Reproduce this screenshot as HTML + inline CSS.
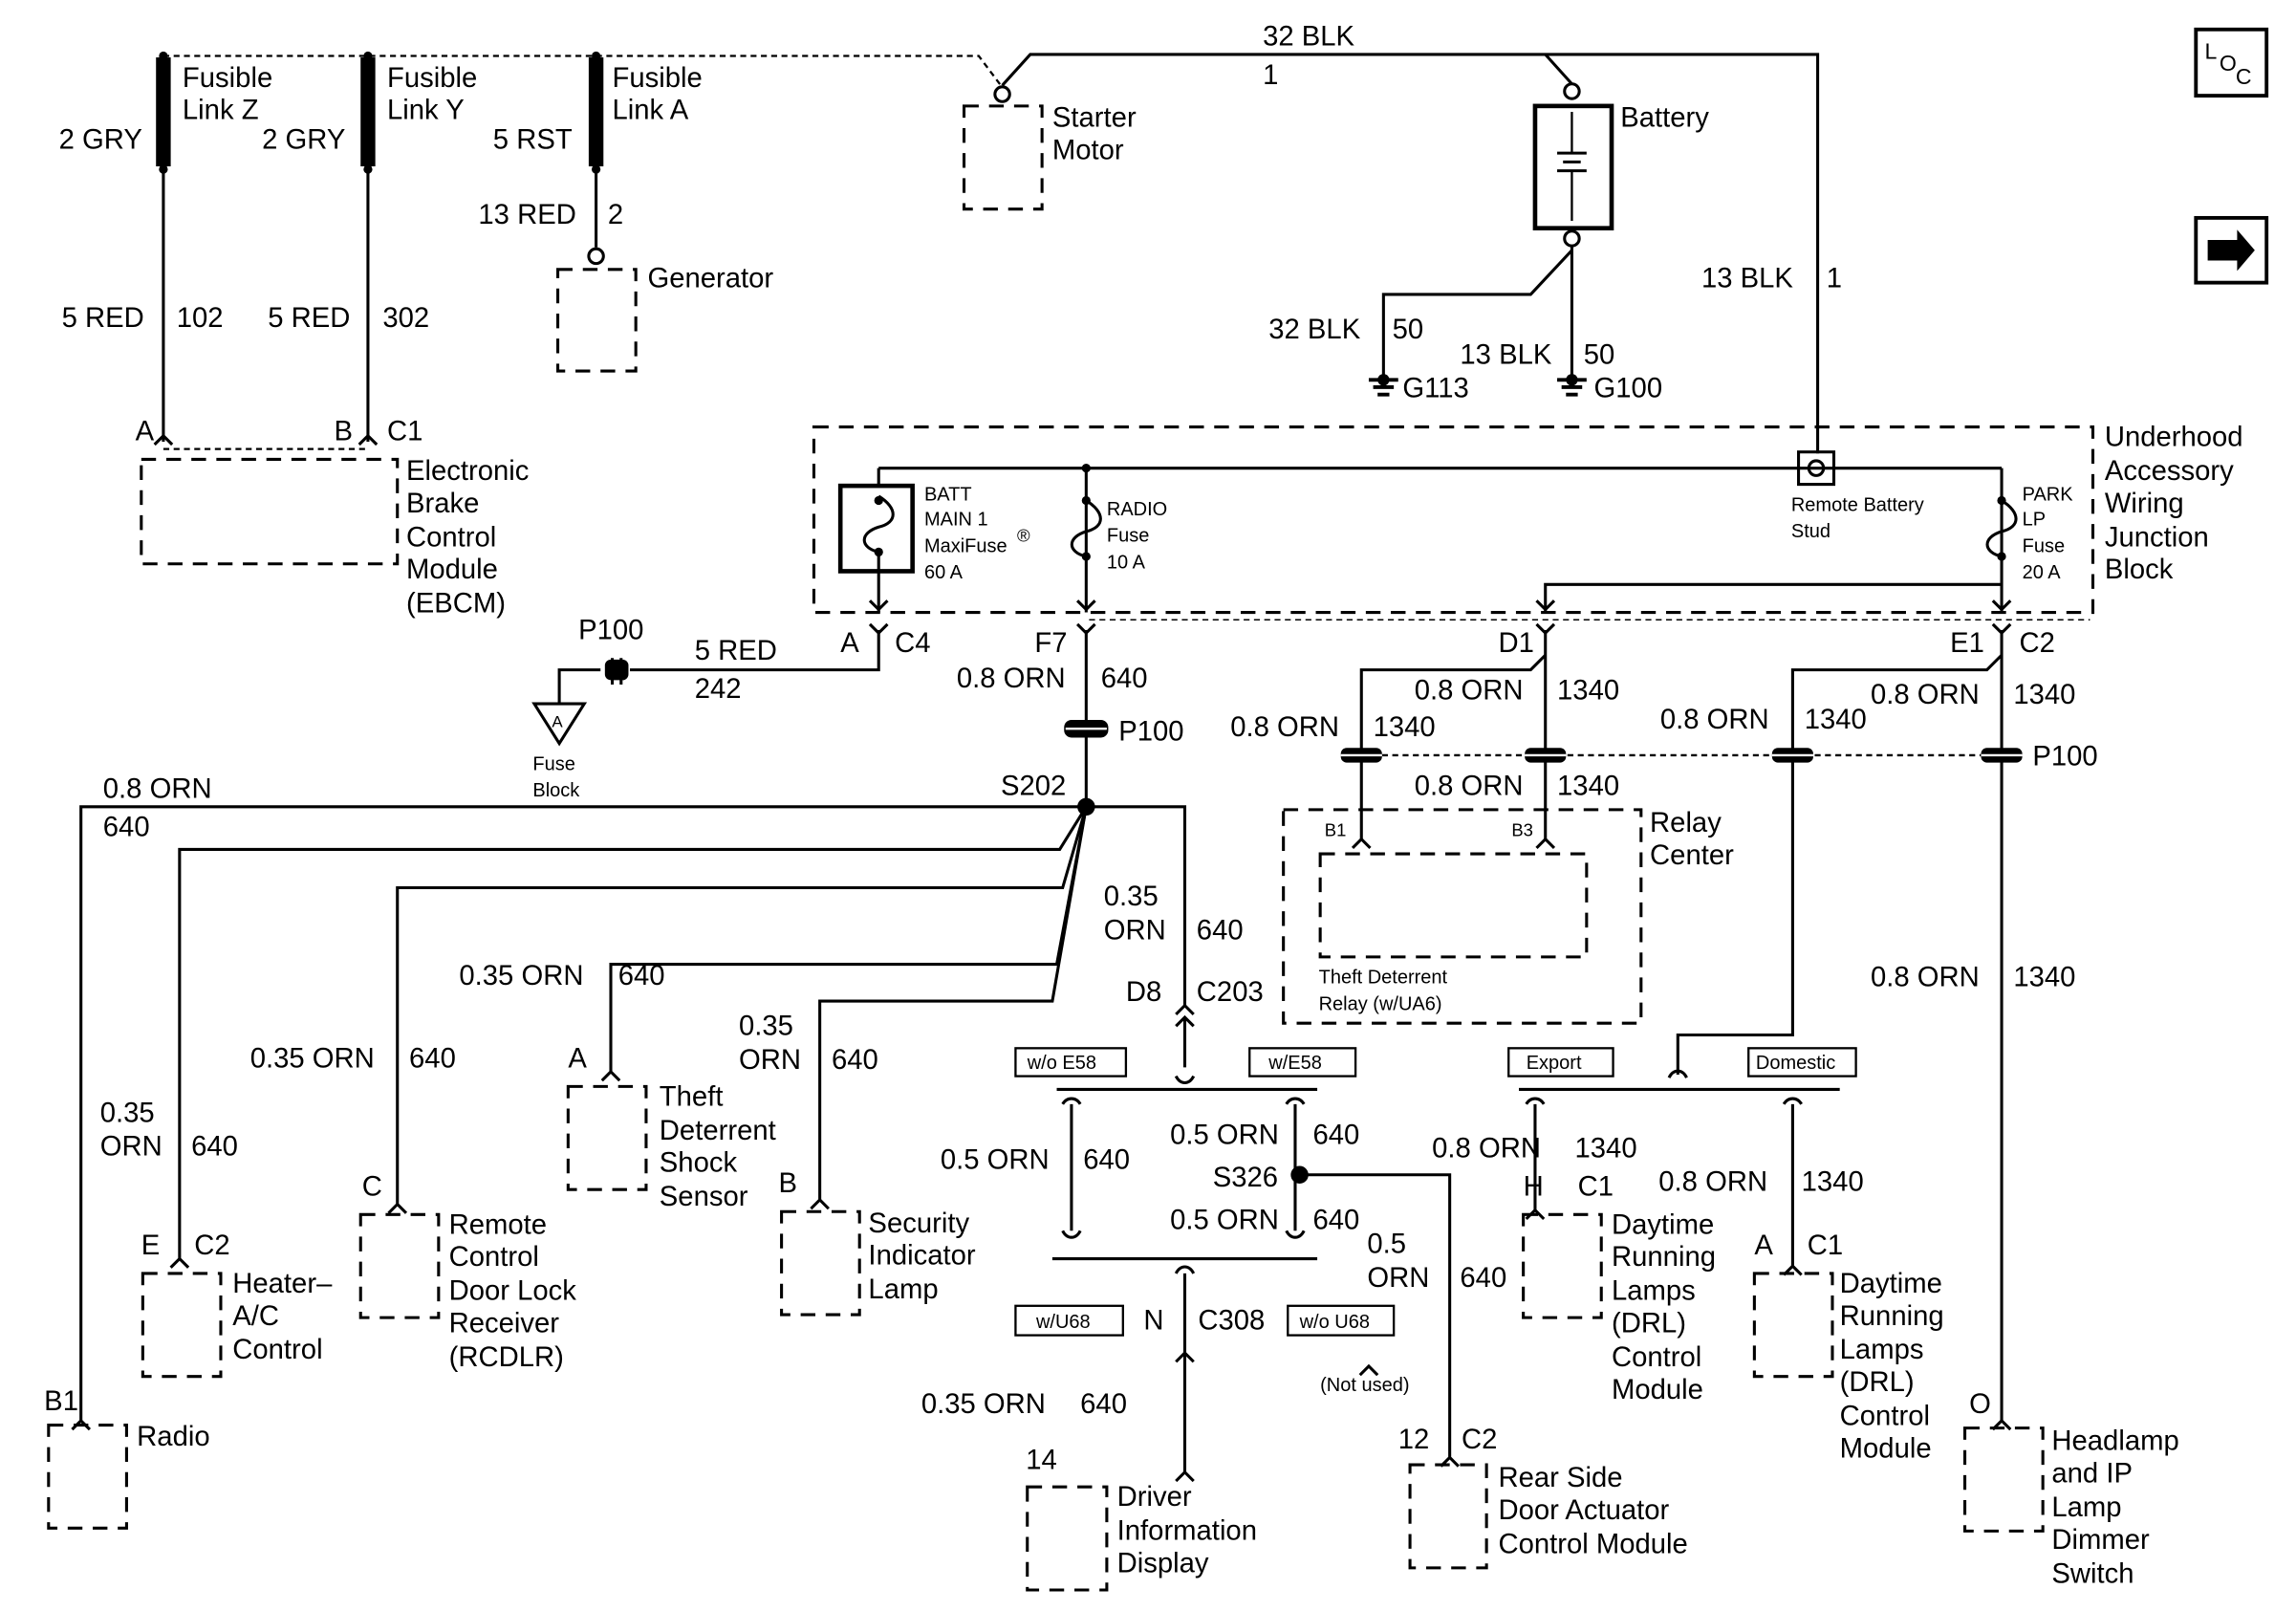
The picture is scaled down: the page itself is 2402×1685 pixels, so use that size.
<!DOCTYPE html>
<html><head><meta charset="utf-8"><style>
html,body{margin:0;padding:0;background:#fff;}
svg{display:block;}
text{font-family:"Liberation Sans",Arial,sans-serif;fill:#000;}
.b{font-size:19px;}
.s{font-size:13px;}
</style></head><body>
<svg width="2402" height="1685" viewBox="0 0 1560 1094.3" preserveAspectRatio="none" xmlns="http://www.w3.org/2000/svg">
<rect x="0" y="0" width="1560" height="1095" fill="#fff"/>
<g fill="none" stroke="#000" stroke-width="2">
<!-- fusible links -->
<rect x="107" y="40" width="8" height="72" fill="#000"/>
<rect x="246" y="40" width="8" height="72" fill="#000"/>
<rect x="401" y="40" width="8" height="72" fill="#000"/>
<path d="M111 38 L665 38 L680 58" stroke-dasharray="4 3" stroke-width="1.5"/>
<line x1="111" y1="112" x2="111" y2="300"/>
<line x1="250" y1="112" x2="250" y2="300"/>
<path d="M105 302 L111 296 L117 302 M244 302 L250 296 L256 302"/>
<line x1="111" y1="305" x2="250" y2="305" stroke-dasharray="4 3" stroke-width="1.5"/>
<rect x="96" y="312" width="174" height="71" stroke-dasharray="10 7"/>
<!-- generator -->
<line x1="405" y1="112" x2="405" y2="168"/>
<circle cx="405" cy="174" r="5"/>
<rect x="379" y="183" width="53" height="69" stroke-dasharray="10 7"/>
<!-- starter & battery -->
<circle cx="681" cy="64" r="5"/>
<rect x="655" y="72" width="53" height="70" stroke-dasharray="10 7"/>
<path d="M681 58 L700 37 L1235 37 L1235 308"/>
<path d="M1050 37 L1068 57"/>
<circle cx="1068" cy="62" r="5"/>
<rect x="1043" y="72" width="52" height="83" stroke-width="3"/>
<line x1="1068" y1="76" x2="1068" y2="104" stroke-width="1.5"/>
<line x1="1058" y1="104" x2="1078" y2="104"/><line x1="1062" y1="110" x2="1074" y2="110"/><line x1="1058" y1="116" x2="1078" y2="116"/>
<line x1="1068" y1="116" x2="1068" y2="150" stroke-width="1.5"/>
<circle cx="1068" cy="162" r="5"/>
<line x1="1068" y1="167" x2="1068" y2="258"/>
<path d="M1068 170 L1040 200 L940 200 L940 258"/>
<path d="M930 258 L950 258 M933 263 L947 263 M936 268 L944 268" stroke-width="2.5"/>
<path d="M1058 258 L1078 258 M1061 263 L1075 263 M1064 268 L1072 268" stroke-width="2.5"/>
<!-- underhood block -->
<rect x="553" y="290" width="869" height="126" stroke-dasharray="10 7"/>
<path d="M597 318 L1360 318 M597 318 L597 330 M738 318 L738 416 M1360 318 L1360 416"/>
<rect x="1222" y="307" width="24" height="22"/>
<circle cx="1234" cy="318" r="5"/>
<rect x="571" y="330" width="49" height="58" stroke-width="3"/>
<path d="M597 337 C610 345 610 355 597 358 C584 362 584 372 597 375 L597 416"/>
<path d="M738 340 C751 348 751 358 738 361 C725 365 725 375 738 378"/>
<path d="M1360 340 C1373 348 1373 358 1360 361 C1347 365 1347 375 1360 378"/>
<path d="M1050 416 L1050 397 L1360 397"/>
<path d="M591 408 L597 414 L603 408 M732 408 L738 414 L744 408 M1044 408 L1050 414 L1056 408 M1354 408 L1360 414 L1366 408"/>
<path d="M591 424 L597 430 L603 424 M732 424 L738 430 L744 424 M1044 424 L1050 430 L1056 424 M1354 424 L1360 430 L1366 424"/>
<line x1="740" y1="421" x2="1420" y2="421" stroke-width="1" stroke-dasharray="4 3"/>
<!-- C4 to fuse block -->
<path d="M597 428 L597 455 L428 455"/>
<path d="M416 447 L416 465 M422 447 L422 465 M408 455 L380 455 L380 478"/>
<rect x="412" y="449" width="14" height="12" fill="#000" rx="3"/>
<path d="M363 478 L397 478 L380 505 Z"/>
<!-- F7 -->
<line x1="738" y1="428" x2="738" y2="548"/>
<rect x="724" y="490" width="28" height="10" fill="#000" rx="4"/><line x1="724" y1="495" x2="752" y2="495" stroke="#fff" stroke-width="1.5"/>
<circle cx="738" cy="548" r="5" fill="#000"/>
<path d="M738 548 L55 548 L55 965 M49 971 L55 965 L61 971"/>
<path d="M738 548 L805 548 L805 683 M799 689 L805 683 L811 689 M799 697 L805 691 L811 697 M805 691 L805 725"/>
<path d="M738 548 L720 577 L122 577 L122 855 M116 861 L122 855 L128 861"/>
<path d="M738 548 L722 603 L270 603 L270 818 M264 824 L270 818 L276 824"/>
<path d="M738 548 L718 655 L415 655 L415 728 M409 734 L415 728 L421 734"/>
<path d="M738 548 L715 680 L557 680 L557 815 M551 821 L557 815 L563 821"/>
<rect x="33" y="968" width="53" height="70" stroke-dasharray="10 7"/>
<rect x="97" y="865" width="53" height="70" stroke-dasharray="10 7"/>
<rect x="245" y="825" width="53" height="70" stroke-dasharray="10 7"/>
<rect x="386" y="738" width="53" height="70" stroke-dasharray="10 7"/>
<rect x="531" y="823" width="53" height="70" stroke-dasharray="10 7"/>
<!-- C203 branch -->
<path d="M799 731 C802 737 808 737 811 731" />
<path d="M718 740 L895 740"/>
<path d="M722 750 C725 745 731 745 734 750 M728 750 L728 836 M722 836 C725 842 731 842 734 836"/>
<path d="M874 750 C877 745 883 745 886 750 M880 750 L880 836 M874 836 C877 842 883 842 886 836"/>
<circle cx="883" cy="798" r="5" fill="#000"/>
<path d="M883 798 L985 798 L985 990 M979 996 L985 990 L991 996"/>
<path d="M715 855 L895 855"/>
<path d="M799 865 C802 859 808 859 811 865 M805 865 L805 925 M799 925 L805 919 L811 925 M805 925 L805 1000 M799 1006 L805 1000 L811 1006"/>
<path d="M924 934 L930 928 L936 934"/>
<rect x="698" y="1010" width="54" height="70" stroke-dasharray="10 7"/>
<rect x="958" y="995" width="52" height="70" stroke-dasharray="10 7"/>
<g stroke-width="1.5">
<rect x="690" y="712" width="75" height="19"/><rect x="849" y="712" width="72" height="19"/>
<rect x="690" y="887" width="73" height="20"/><rect x="875" y="887" width="72" height="20"/>
<rect x="1025" y="712" width="71" height="19"/><rect x="1188" y="712" width="73" height="19"/>
</g>
<!-- D1 -->
<path d="M1050 428 L1050 570 M1050 445 L1040 455 L925 455 L925 570"/>
<path d="M919 576 L925 570 L931 576 M1044 576 L1050 570 L1056 576"/>
<line x1="925" y1="513" x2="1360" y2="513" stroke-dasharray="4 3" stroke-width="1.5"/>
<rect x="872" y="550" width="243" height="145" stroke-dasharray="10 7"/>
<rect x="897" y="580" width="181" height="70" stroke-dasharray="10 7"/>
<!-- E1 -->
<path d="M1360 428 L1360 965 M1354 971 L1360 965 L1366 971"/>
<path d="M1360 445 L1350 455 L1218 455 L1218 703 L1140 703 L1140 730"/>
<path d="M1134 732 C1137 726 1143 726 1146 732"/>
<path d="M1032 740 L1250 740"/>
<path d="M1037 750 C1040 745 1046 745 1049 750 M1043 750 L1043 822 M1037 828 L1043 822 L1049 828"/>
<path d="M1212 750 C1215 745 1221 745 1224 750 M1218 750 L1218 860 M1212 866 L1218 860 L1224 866"/>
<rect x="1035" y="825" width="53" height="70" stroke-dasharray="10 7"/>
<rect x="1192" y="865" width="53" height="70" stroke-dasharray="10 7"/>
<rect x="1335" y="970" width="53" height="70" stroke-dasharray="10 7"/>
<!-- icons -->
<rect x="1492" y="20" width="48" height="45" stroke-width="2.5"/>
<rect x="1492" y="148" width="48" height="44" stroke-width="2.5"/>
</g>
<!-- fills: P100 connectors, dots -->
<g fill="#000">
<circle cx="111" cy="115" r="3"/><circle cx="250" cy="115" r="3"/><circle cx="405" cy="115" r="3"/>
<circle cx="111" cy="38" r="3"/><circle cx="250" cy="38" r="3"/><circle cx="405" cy="38" r="3"/>
<circle cx="738" cy="318" r="3"/>
<circle cx="940" cy="258" r="4"/><circle cx="1068" cy="258" r="4"/>
<circle cx="597" cy="340" r="3"/><circle cx="597" cy="375" r="3"/>
<circle cx="738" cy="340" r="3"/><circle cx="738" cy="378" r="3"/>
<circle cx="1360" cy="340" r="3"/><circle cx="1360" cy="378" r="3"/>
<rect x="911" y="508" width="28" height="10" rx="4"/><rect x="1036" y="508" width="28" height="10" rx="4"/>
<rect x="1204" y="508" width="28" height="10" rx="4"/><rect x="1346" y="508" width="28" height="10" rx="4"/>
<path d="M1500 163 L1520 163 L1520 156 L1532 170 L1520 184 L1520 177 L1500 177 Z"/>
</g>
<g stroke="#fff" stroke-width="1.5"><line x1="911" y1="513" x2="939" y2="513"/><line x1="1036" y1="513" x2="1064" y2="513"/><line x1="1204" y1="513" x2="1232" y2="513"/><line x1="1346" y1="513" x2="1374" y2="513"/></g>
<!-- text -->
<g class="b">
<text x="124" y="59">Fusible</text><text x="124" y="81">Link Z</text>
<text x="263" y="59">Fusible</text><text x="263" y="81">Link Y</text>
<text x="416" y="59">Fusible</text><text x="416" y="81">Link A</text>
<text x="40" y="101">2 GRY</text><text x="178" y="101">2 GRY</text><text x="335" y="101">5 RST</text>
<text x="325" y="152">13 RED</text><text x="413" y="152">2</text>
<text x="440" y="195">Generator</text>
<text x="42" y="222">5 RED</text><text x="120" y="222">102</text>
<text x="182" y="222">5 RED</text><text x="260" y="222">302</text>
<text x="92" y="299">A</text><text x="227" y="299">B</text><text x="263" y="299">C1</text>
<text x="276" y="326">Electronic</text><text x="276" y="348">Brake</text><text x="276" y="371">Control</text><text x="276" y="393">Module</text><text x="276" y="416">(EBCM)</text>
<text x="858" y="31">32 BLK</text><text x="858" y="57">1</text>
<text x="715" y="86">Starter</text><text x="715" y="108">Motor</text>
<text x="1101" y="86">Battery</text>
<text x="1156" y="195">13 BLK</text><text x="1241" y="195">1</text>
<text x="862" y="230">32 BLK</text><text x="946" y="230">50</text>
<text x="992" y="247">13 BLK</text><text x="1076" y="247">50</text>
<text x="953" y="270">G113</text><text x="1083" y="270">G100</text>
<text x="1430" y="303">Underhood</text><text x="1430" y="326">Accessory</text><text x="1430" y="348">Wiring</text><text x="1430" y="371">Junction</text><text x="1430" y="393">Block</text>
<text x="393" y="434">P100</text>
<text x="472" y="448">5 RED</text><text x="472" y="474">242</text>
<text x="571" y="443">A</text><text x="608" y="443">C4</text>
<text x="703" y="443">F7</text>
<text x="650" y="467">0.8 ORN</text><text x="748" y="467">640</text>
<text x="760" y="503">P100</text>
<text x="1018" y="443">D1</text><text x="1325" y="443">E1</text><text x="1372" y="443">C2</text>
<text x="961" y="475">0.8 ORN</text><text x="1058" y="475">1340</text>
<text x="1271" y="478">0.8 ORN</text><text x="1368" y="478">1340</text>
<text x="836" y="500">0.8 ORN</text><text x="933" y="500">1340</text>
<text x="1128" y="495">0.8 ORN</text><text x="1226" y="495">1340</text>
<text x="1381" y="520">P100</text>
<text x="961" y="540">0.8 ORN</text><text x="1058" y="540">1340</text>
<text x="70" y="542">0.8 ORN</text><text x="70" y="568">640</text>
<text x="680" y="540">S202</text>
<text x="1121" y="565">Relay</text><text x="1121" y="587">Center</text>
<text x="750" y="615">0.35</text><text x="750" y="638">ORN</text><text x="813" y="638">640</text>
<text x="312" y="669">0.35 ORN</text><text x="420" y="669">640</text>
<text x="1271" y="670">0.8 ORN</text><text x="1368" y="670">1340</text>
<text x="765" y="680">D8</text><text x="813" y="680">C203</text>
<text x="502" y="703">0.35</text><text x="502" y="726">ORN</text><text x="565" y="726">640</text>
<text x="170" y="725">0.35 ORN</text><text x="278" y="725">640</text>
<text x="386" y="725">A</text>
<text x="448" y="751">Theft</text><text x="448" y="774">Deterrent</text><text x="448" y="796">Shock</text><text x="448" y="819">Sensor</text>
<text x="68" y="762">0.35</text><text x="68" y="785">ORN</text><text x="130" y="785">640</text>
<text x="795" y="777">0.5 ORN</text><text x="892" y="777">640</text>
<text x="639" y="794">0.5 ORN</text><text x="736" y="794">640</text>
<text x="824" y="806">S326</text>
<text x="973" y="786">0.8 ORN</text><text x="1070" y="786">1340</text>
<text x="1127" y="809">0.8 ORN</text><text x="1224" y="809">1340</text>
<text x="1035" y="812">H</text><text x="1072" y="812">C1</text>
<text x="246" y="812">C</text><text x="529" y="810">B</text>
<text x="795" y="835">0.5 ORN</text><text x="892" y="835">640</text>
<text x="305" y="838">Remote</text><text x="305" y="860">Control</text><text x="305" y="883">Door Lock</text><text x="305" y="905">Receiver</text><text x="305" y="928">(RCDLR)</text>
<text x="590" y="837">Security</text><text x="590" y="859">Indicator</text><text x="590" y="882">Lamp</text>
<text x="1095" y="838">Daytime</text><text x="1095" y="860">Running</text><text x="1095" y="883">Lamps</text><text x="1095" y="905">(DRL)</text><text x="1095" y="928">Control</text><text x="1095" y="950">Module</text>
<text x="929" y="851">0.5</text><text x="929" y="874">ORN</text><text x="992" y="874">640</text>
<text x="96" y="852">E</text><text x="132" y="852">C2</text>
<text x="1192" y="852">A</text><text x="1228" y="852">C1</text>
<text x="158" y="878">Heater–</text><text x="158" y="900">A/C</text><text x="158" y="923">Control</text>
<text x="1250" y="878">Daytime</text><text x="1250" y="900">Running</text><text x="1250" y="923">Lamps</text><text x="1250" y="945">(DRL)</text><text x="1250" y="968">Control</text><text x="1250" y="990">Module</text>
<text x="777" y="903">N</text><text x="814" y="903">C308</text>
<text x="30" y="958">B1</text>
<text x="626" y="960">0.35 ORN</text><text x="734" y="960">640</text>
<text x="1338" y="960">O</text>
<text x="93" y="982">Radio</text>
<text x="950" y="984">12</text><text x="993" y="984">C2</text>
<text x="1394" y="985">Headlamp</text><text x="1394" y="1007">and IP</text><text x="1394" y="1030">Lamp</text><text x="1394" y="1052">Dimmer</text><text x="1394" y="1075">Switch</text>
<text x="697" y="998">14</text>
<text x="1018" y="1010">Rear Side</text><text x="1018" y="1032">Door Actuator</text><text x="1018" y="1055">Control Module</text>
<text x="759" y="1023">Driver</text><text x="759" y="1046">Information</text><text x="759" y="1068">Display</text>
</g>
<g class="s">
<text x="628" y="340">BATT</text><text x="628" y="357">MAIN 1</text><text x="628" y="375">MaxiFuse</text><text x="691" y="368" font-size="12">®</text><text x="628" y="393">60 A</text>
<text x="752" y="350">RADIO</text><text x="752" y="368">Fuse</text><text x="752" y="386">10 A</text>
<text x="1217" y="347">Remote Battery</text><text x="1217" y="365">Stud</text>
<text x="1374" y="340">PARK</text><text x="1374" y="357">LP</text><text x="1374" y="375">Fuse</text><text x="1374" y="393">20 A</text>
<text x="362" y="523">Fuse</text><text x="362" y="541">Block</text>
<text x="375" y="494" font-size="11">A</text>
<text x="900" y="568" font-size="12">B1</text><text x="1027" y="568" font-size="12">B3</text>
<text x="896" y="668">Theft Deterrent</text><text x="896" y="686">Relay (w/UA6)</text>
<text x="698" y="726">w/o E58</text><text x="862" y="726">w/E58</text>
<text x="1037" y="726">Export</text><text x="1193" y="726">Domestic</text>
<text x="704" y="902">w/U68</text><text x="883" y="902">w/o U68</text>
<text x="897" y="945">(Not used)</text>
</g>
<g font-size="15"><text x="1498" y="40">L</text><text x="1508" y="48">O</text><text x="1519" y="57">C</text></g>
</svg>
</body></html>
